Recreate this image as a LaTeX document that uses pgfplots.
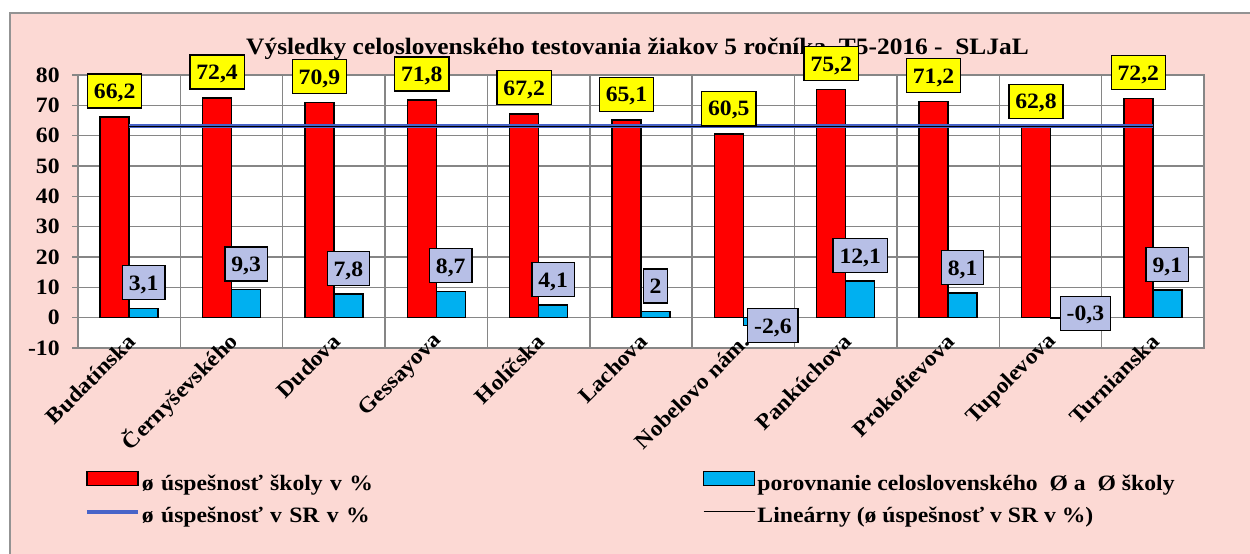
\documentclass[border=0pt]{standalone}
\usepackage{fontspec}
\setmainfont{Liberation Serif}[FakeStretch=1.08]
\usepackage{pgfplots}
\usepackage{pgfplotstable}
\pgfplotsset{compat=1.18}
\definecolor{bgpink}{RGB}{252,217,212}
\definecolor{barred}{RGB}{255,0,0}
\definecolor{barcyan}{RGB}{0,176,240}
\definecolor{labblue}{RGB}{183,191,230}
\definecolor{labyellow}{RGB}{255,255,0}
\definecolor{srblue}{RGB}{72,100,200}
\definecolor{gridgray}{RGB}{134,134,134}

\pgfplotstableread{
x red redlab blue bluelab sr
0 66.2 66,2 3.1 3,1 63.1
1 72.4 72,4 9.3 9,3 63.1
2 70.9 70,9 7.8 7,8 63.1
3 71.8 71,8 8.7 8,7 63.1
4 67.2 67,2 4.1 4,1 63.1
5 65.1 65,1 2.0 2 63.1
6 60.5 60,5 -2.6 -2,6 63.1
7 75.2 75,2 12.1 12,1 63.1
8 71.2 71,2 8.1 8,1 63.1
9 62.8 62,8 -0.3 -0,3 63.1
10 72.2 72,2 9.1 9,1 63.1
}\data

% labels of the positive comparison values (placed above the bars)
\pgfplotstableread{
x blue bluelab
0 3.1 3,1
1 9.3 9,3
2 7.8 7,8
3 8.7 8,7
4 4.1 4,1
5 2.0 2
7 12.1 12,1
8 8.1 8,1
10 9.1 9,1
}\bluepos
\pgfplotstableread{
x blue bluelab
6 -2.6 -2,6
}\bluenegA
\pgfplotstableread{
x blue bluelab
9 -0.3 -0,3
}\bluenegB

\newcommand{\bfs}{\fontsize{11}{12.5}\selectfont\bfseries}
\tikzset{labbox/.style={draw=black, line width=0.65bp, inner xsep=3.2bp, inner ysep=0pt, text height=12.35bp, text depth=4.65bp, anchor=center, font=\bfs}}

\begin{document}
\begin{tikzpicture}[font=\bfs]
\useasboundingbox (0,0) rectangle (625bp,277bp);
\draw[draw=gray!85, line width=0.75bp, fill=bgpink] (5bp,-20bp) rectangle (640bp,270.5bp);
\node[anchor=base, font=\fontsize{11.8}{14}\selectfont\bfseries, inner sep=0pt] at (318.75bp,249.5bp) {Výsledky celoslovenského testovania žiakov 5 ročníka\ \ T5-2016 -\ \ SLJaL};
\begin{axis}[
  at={(39bp,103bp)}, anchor=south west,
  scale only axis, width=563bp, height=136.5bp,
  clip=false,
  xmin=-0.5, xmax=10.5, ymin=-10, ymax=80,
  ytick={-10,0,...,80},
  xtick={0,...,10},
  xticklabels={Budatínska,Černyševského,Dudova,Gessayova,Holíčska,Lachova,Nobelovo nám.,Pankúchova,Prokofievova,Tupolevova,Turnianska},
  minor xtick={-0.5,0.5,...,10.5},
  xminorgrids=true, ymajorgrids=true, xmajorgrids=false,
  grid style={draw=gridgray, line width=0.75bp},
  minor grid style={draw=gridgray, line width=0.75bp},
  axis line style={draw=gridgray, line width=0.75bp},
  axis background/.style={fill=white},
  x tick style={draw=none},
  minor x tick style={draw=none},
  y tick style={draw=gridgray, line width=0.75bp},
  ytick pos=left, tick align=outside, major tick length=3bp,
  /pgf/number format/assume math mode=true,
  yticklabel style={font=\bfs, inner sep=0pt, xshift=-6bp},
  xticklabel style={font=\bfs, rotate=45, anchor=east, inner sep=0pt, xshift=6.6bp, yshift=4.8bp},
  legend columns=2,
  legend cell align=left,
  legend style={at={(0.0062,-0.4505)}, anchor=north west, draw=none, fill=none, inner sep=0pt, outer sep=0pt, row sep=5bp, font=\bfs,
    nodes={inner sep=0pt, text height=8bp, text depth=3bp},
    /tikz/column 1/.style={column sep=1bp},
    /tikz/column 3/.style={column sep=1bp},
    /tikz/column 2/.style={nodes={text width=280.5bp, align=left}}},
]
\addplot[ybar, bar width=14.5bp, bar shift=-7.25bp, fill=barred, draw=black, line width=0.75bp,
  legend image code/.code={\draw[fill=barred, draw=black, line width=0.75bp] (0bp,0bp) rectangle (25.5bp,7bp);}
] table[x=x, y=red] {\data};
\addlegendentry{ø úspešnosť školy v \%}
\addplot[ybar, bar width=14.5bp, bar shift=7.25bp, fill=barcyan, draw=black, line width=0.75bp,
  legend image code/.code={\draw[fill=barcyan, draw=black, line width=0.75bp] (0bp,0bp) rectangle (25.5bp,7bp);}
] table[x=x, y=blue] {\data};
\addlegendentry{porovnanie celoslovenského\ \ Ø a\ \ Ø školy}
\addplot[sharp plot, no marks, draw=srblue, line width=2bp,
  legend image code/.code={\draw[draw=srblue, line width=2bp] (0bp,3bp) -- (25.5bp,3bp);}
] table[x=x, y=sr] {\data};
\addlegendentry{ø úspešnosť v SR v \%}
\addplot[sharp plot, no marks, draw=black, line width=0.6bp,
  legend image code/.code={\draw[draw=black, line width=0.75bp] (0bp,3bp) -- (25.5bp,3bp);}
] table[x=x, y=sr] {\data};
\addlegendentry{Lineárny (ø úspešnosť v SR v \%)}
% data labels
\addplot[forget plot, draw=none, no marks, point meta=explicit symbolic, nodes near coords,
  every node near coord/.append style={labbox, fill=labyellow, xshift=-7.25bp, yshift=13bp}
] table[x=x, y=red, meta=redlab] {\data};
\addplot[forget plot, draw=none, no marks, point meta=explicit symbolic, nodes near coords,
  every node near coord/.append style={labbox, fill=labblue, xshift=7.25bp, yshift=12.75bp}
] table[x=x, y=blue, meta=bluelab] {\bluepos};
\addplot[forget plot, draw=none, no marks, point meta=explicit symbolic, nodes near coords,
  every node near coord/.append style={labbox, fill=labblue, xshift=14.75bp, yshift=0bp}
] table[x=x, y=blue, meta=bluelab] {\bluenegA};
\addplot[forget plot, draw=none, no marks, point meta=explicit symbolic, nodes near coords,
  every node near coord/.append style={labbox, fill=labblue, xshift=17.45bp, yshift=2.7bp}
] table[x=x, y=blue, meta=bluelab] {\bluenegB};
\end{axis}
\end{tikzpicture}
\end{document}
